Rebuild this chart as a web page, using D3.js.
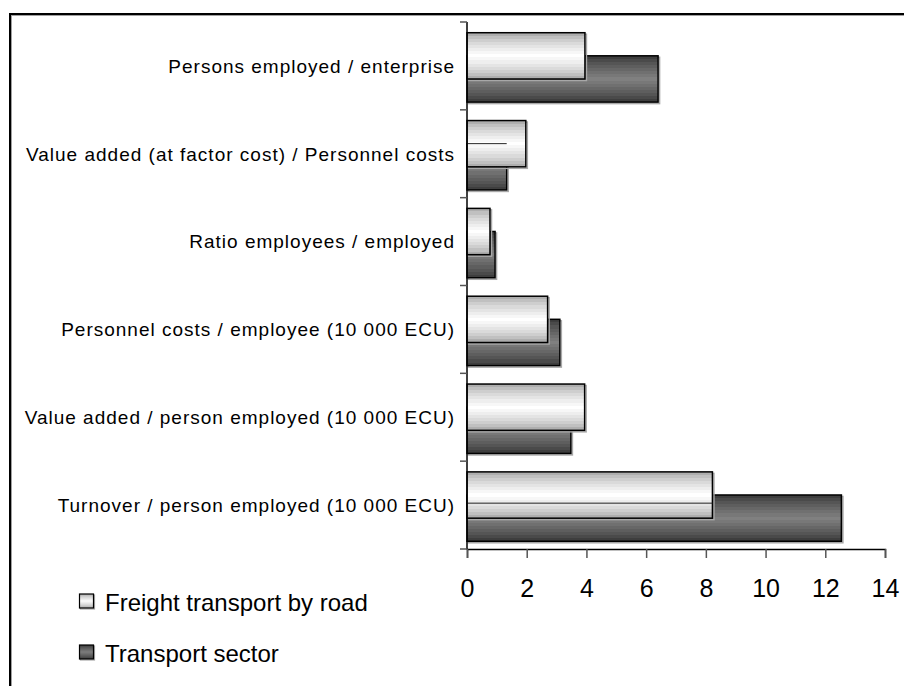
<!DOCTYPE html>
<html>
<head>
<meta charset="utf-8">
<script src="https://cdn.jsdelivr.net/npm/d3@7"></script>
<style>
  html, body { margin: 0; padding: 0; background: #fff; }
  svg { display: block; }
  text { font-family: Arial, "Liberation Sans", sans-serif; fill: #000; }
</style>
</head>
<body>
<svg id="chart" width="904" height="686"></svg>
<script>
// Indicators, listed top to bottom
const categories = [
  "Persons employed / enterprise",
  "Value added (at factor cost) / Personnel costs",
  "Ratio employees / employed",
  "Personnel costs / employee (10 000 ECU)",
  "Value added / person employed (10 000 ECU)",
  "Turnover / person employed (10 000 ECU)"
];
const freightRoad = [3.95, 1.97, 0.77, 2.70, 3.94, 8.22];
const transportSector = [6.40, 1.33, 0.94, 3.11, 3.48, 12.54];
const seriesNames = ["Freight transport by road", "Transport sector"];
const xTicks = [0, 2, 4, 6, 8, 10, 12, 14];

const svg = d3.select("#chart");
const defs = svg.append("defs");

// Banded cylinder-style shading for each series
function bandedGradient(id, edge, centre, bands, power) {
  const g = defs.append("linearGradient").attr("id", id)
    .attr("x1", 0).attr("y1", 0).attr("x2", 0).attr("y2", 1);
  const mix = d3.interpolateRgb(edge, centre);
  for (let i = 0; i < bands; i++) {
    const mid = (i + 0.5) / bands;
    const t = 1 - Math.abs(mid - 0.5) * 2;
    const c = mix(Math.pow(t, power));
    g.append("stop").attr("offset", i / bands).attr("stop-color", c);
    g.append("stop").attr("offset", (i + 1) / bands).attr("stop-color", c);
  }
}
bandedGradient("gFreight", "#9a9a9a", "#ffffff", 15, 0.6);
bandedGradient("gTransport", "#363636", "#808080", 15, 0.8);

// Outer frame
svg.append("path")
  .attr("d", "M11,686 V15 H904")
  .attr("fill", "none").attr("stroke", "#a0a0a0").attr("stroke-width", 2);
svg.append("path")
  .attr("d", "M10,686 V14 H904")
  .attr("fill", "none").attr("stroke", "#000").attr("stroke-width", 2);

const x = d3.scaleLinear().domain([0, 14]).range([467, 885]);
const y = d3.scaleBand().domain(categories).range([22, 549]).paddingInner(0).paddingOuter(0);
const bw = y.bandwidth();

// Bars: transport sector behind, freight in front, overlapping
const barH = bw * 0.527;
const offFreight = bw * 0.122;
const offTransport = bw * 0.385;

function drawBars(values, off, fill, cls) {
  const g = svg.append("g").attr("class", cls);
  // soft grey shadow on right / bottom
  g.selectAll("rect.shadow").data(values).join("rect")
    .attr("class", "shadow")
    .attr("x", x(0) + 1.5)
    .attr("y", (d, i) => y(categories[i]) + off + 1.5)
    .attr("width", d => x(d) - x(0))
    .attr("height", barH)
    .attr("fill", "none")
    .attr("stroke", "#a8a8a8").attr("stroke-width", 1.5);
  g.selectAll("rect.bar").data(values).join("rect")
    .attr("class", "bar")
    .attr("x", x(0))
    .attr("y", (d, i) => y(categories[i]) + off)
    .attr("width", d => x(d) - x(0))
    .attr("height", barH)
    .attr("fill", fill)
    .attr("stroke", "#000").attr("stroke-width", 1.5);
}
drawBars(transportSector, offTransport, "url(#gTransport)", "transport");
drawBars(freightRoad, offFreight, "url(#gFreight)", "freight");

// Thin seam lines that show through two of the front bars
const seams = [
  { cat: 1, value: transportSector[1], off: offTransport },
  { cat: 5, value: freightRoad[5], off: bw * 0.478 }
];
svg.selectAll("line.seam").data(seams).join("line")
  .attr("class", "seam")
  .attr("x1", x(0)).attr("x2", d => x(d.value))
  .attr("y1", d => y(categories[d.cat]) + d.off)
  .attr("y2", d => y(categories[d.cat]) + d.off)
  .attr("stroke", "#222").attr("stroke-width", 1);

// Category axis (vertical)
svg.append("line")
  .attr("x1", x(0)).attr("x2", x(0))
  .attr("y1", 22).attr("y2", 549)
  .attr("stroke", "#000").attr("stroke-width", 1.5);
const bounds = categories.map(c => y(c)).concat([549]);
svg.selectAll("line.ctick").data(bounds).join("line")
  .attr("class", "ctick")
  .attr("x1", x(0) - 7).attr("x2", x(0))
  .attr("y1", d => d).attr("y2", d => d)
  .attr("stroke", "#555").attr("stroke-width", 1.5);

svg.selectAll("text.cat").data(categories).join("text")
  .attr("class", "cat")
  .attr("x", 455)
  .attr("y", d => y(d) + bw / 2)
  .attr("dy", "0.36em")
  .attr("text-anchor", "end")
  .style("font-size", "19px")
  .style("letter-spacing", "1px")
  .text(d => d);

// Value axis (horizontal)
const xAxis = d3.axisBottom(x).tickValues(xTicks).tickSize(9).tickPadding(21).tickFormat(d3.format("d"));
const ax = svg.append("g").attr("transform", "translate(0,549)").call(xAxis);
ax.select(".domain").attr("stroke", "#000").attr("stroke-width", 1.5);
ax.selectAll(".tick line").attr("stroke", "#555").attr("stroke-width", 1.5);
ax.selectAll(".tick text")
  .style("font-size", "25px")
  .style("font-family", "Arial, 'Liberation Sans', sans-serif")
  .attr("fill", "#000");

// Legend
const legend = svg.append("g");
const fills = ["url(#gFreight)", "url(#gTransport)"];
const legendY = [594, 645];
seriesNames.forEach((name, i) => {
  legend.append("rect")
    .attr("x", 80.5).attr("y", legendY[i] + 1)
    .attr("width", 14).attr("height", 14)
    .attr("fill", "none").attr("stroke", "#a8a8a8").attr("stroke-width", 1.2);
  legend.append("rect")
    .attr("x", 79.5).attr("y", legendY[i])
    .attr("width", 14).attr("height", 14)
    .attr("fill", fills[i]).attr("stroke", "#000").attr("stroke-width", 1.2);
  legend.append("text")
    .attr("x", 105).attr("y", legendY[i] + 17)
    .style("font-size", "24px")
    .text(name);
});
</script>
</body>
</html>
